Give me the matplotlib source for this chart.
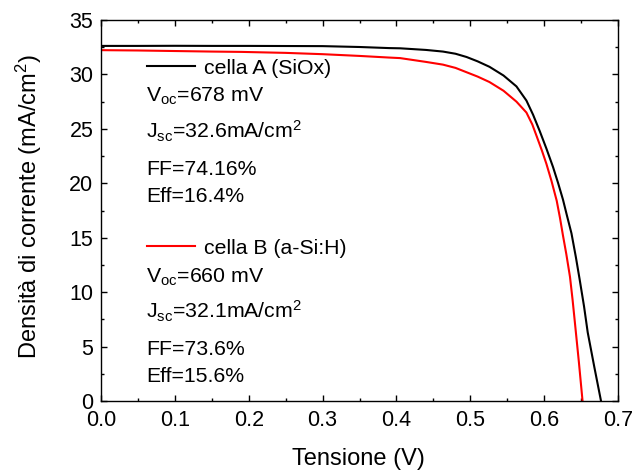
import numpy as np
import matplotlib
matplotlib.use("Agg")
import matplotlib.pyplot as plt
from matplotlib.lines import Line2D
from matplotlib.legend import Legend

plt.rcParams['font.family'] = ['Liberation Sans', 'DejaVu Sans']
plt.rcParams['mathtext.fontset'] = 'custom'
plt.rcParams['mathtext.rm'] = 'Liberation Sans'
plt.rcParams['mathtext.default'] = 'regular'

# cella A (SiOx) - curva J-V
vA = [0.0, 0.05, 0.10, 0.15, 0.20, 0.25, 0.30, 0.35, 0.39, 0.405, 0.44, 0.463, 0.48, 0.495,
      0.51, 0.526, 0.545, 0.5625, 0.576, 0.585, 0.594, 0.603, 0.612, 0.619, 0.6255, 0.631,
      0.637, 0.643, 0.648, 0.654, 0.659, 0.668, 0.677]
jA = [32.62, 32.62, 32.63, 32.62, 32.62, 32.61, 32.6, 32.52, 32.42, 32.4, 32.25, 32.1, 31.9, 31.6,
      31.2, 30.7, 29.9, 28.9, 27.6, 26.3, 24.8, 23.2, 21.5, 20.0, 18.5, 17.0,
      15.4, 13.2, 11.2, 8.7, 6.3, 3.1, 0.0]

# cella B (a-Si:H)
vB = [0.0, 0.05, 0.10, 0.15, 0.19, 0.25, 0.30, 0.35, 0.39, 0.405, 0.44, 0.463, 0.48, 0.495,
      0.51, 0.526, 0.545, 0.5625, 0.576, 0.584, 0.590, 0.597, 0.603, 0.610, 0.617, 0.6215,
      0.6255, 0.630, 0.635, 0.6385, 0.6415, 0.647, 0.652]
jB = [32.23, 32.2, 32.15, 32.1, 32.07, 31.98, 31.86, 31.7, 31.55, 31.5, 31.15, 30.9, 30.6, 30.2,
      29.8, 29.3, 28.5, 27.5, 26.5, 25.4, 24.3, 23.0, 21.8, 20.2, 18.4, 16.8,
      15.2, 13.5, 11.4, 9.3, 7.3, 3.6, 0.0]

labelA = 'cella A (SiOx)'
labelB = 'cella B (a-Si:H)'
infoA = ['V$_{oc}$=678 mV', 'J$_{sc}$=32.6mA/cm$^2$', 'FF=74.16%', 'Eff=16.4%']
infoB = ['V$_{oc}$=660 mV', 'J$_{sc}$=32.1mA/cm$^2$', 'FF=73.6%', 'Eff=15.6%']

fs_tick = 15.5
fs_txt = 15.3
fs_lab = 17
fig = plt.figure(figsize=(6.33, 4.70), dpi=100)
ax = fig.add_axes([101 / 633, 1 - 401 / 470, 517 / 633, 381 / 470])

ax.plot(vA, jA, color='black', lw=1.5)
ax.plot(vB, jB, color='#ff0000', lw=1.5)

ax.set_xlim(0, 0.7)
ax.set_ylim(0, 35)
ax.set_xticks(np.arange(0, 0.71, 0.1))
ax.set_xticks(np.arange(0.05, 0.7, 0.1), minor=True)
ax.set_yticks(np.arange(0, 36, 5))
ax.set_yticks(np.arange(2.5, 35, 5), minor=True)
ax.set_xticklabels(['0.0', '0.1', '0.2', '0.3', '0.4', '0.5', '0.6', '0.7'])
ax.tick_params(which='both', direction='in', top=True, right=True, width=1.0)
ax.tick_params(which='major', length=4)
ax.tick_params(which='minor', length=2.5)
ax.tick_params(axis='x', labelsize=fs_tick, pad=6.5)
ax.tick_params(axis='y', labelsize=fs_tick, pad=5.5)
for s in ax.spines.values():
    s.set_linewidth(1.0)

ax.set_xlabel('Tensione (V)', fontsize=fs_lab, va='baseline')
ax.xaxis.set_label_coords(0.4977, (401 - 465) / 381)
ax.set_ylabel('Densità di corrente (mA/cm$^2$)', fontsize=fs_lab, va='baseline')
ax.yaxis.set_label_coords((37 - 101) / 517, 0.51)


def yf(py):
    return (401 - py) / 381


x0 = (146.5 - 101) / 517
for lab, col, ly, info, base in [(labelA, 'black', 68.3, infoA, [101.7, 138.3, 175, 201.7]),
                                  (labelB, '#ff0000', 248.3, infoB, [282.7, 318.3, 355, 381.7])]:
    leg = Legend(ax, [Line2D([], [], color=col, lw=1.5)], [lab], loc='center left',
                 bbox_to_anchor=(x0, yf(ly)), frameon=False, borderpad=0,
                 borderaxespad=0, handlelength=2.3, handletextpad=0.4, fontsize=fs_txt)
    ax.add_artist(leg)
    for t, b in zip(info, base):
        ax.text(x0, yf(b), t, transform=ax.transAxes, fontsize=fs_txt, va='baseline', ha='left')

fig.savefig('out.png', dpi=100)
